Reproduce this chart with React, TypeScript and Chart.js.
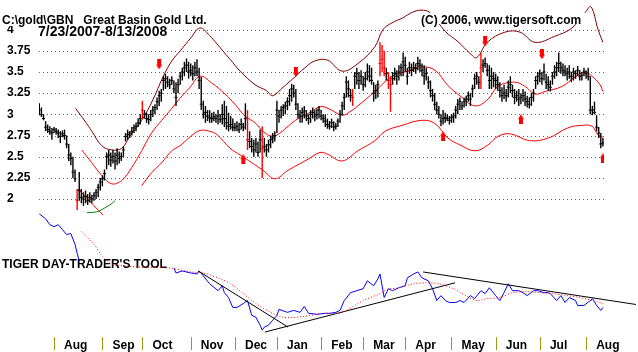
import React, { useEffect, useRef } from 'react';
import { Chart, registerables } from 'chart.js';

Chart.register(...registerables);

// ---- price bars: one entry per trading day, 7/23/2007 (index 0) .. 8/13/2008 (index 268)
const highs = [
  3.13, 3.08, 3.0, 2.92, 2.88, 2.86, 2.84, 2.85, 2.84, 2.82,
  2.8, 2.81, 2.82, 2.75, 2.65, 2.55, 2.5, 2.35, 2.12, 2.32,
  2.12, 2.08, 2.1, 2.06, 2.08, 2.05, 2.08, 2.12, 2.18, 2.25,
  2.28, 2.35, 2.55, 2.58, 2.55, 2.58, 2.55, 2.6, 2.56, 2.55,
  2.62, 2.78, 2.82, 2.8, 2.85, 2.88, 2.9, 2.95, 3.0, 3.16,
  3.05, 3.02, 3.0, 3.05, 3.1, 3.12, 3.2, 3.28, 3.3, 3.45,
  3.48, 3.45, 3.42, 3.45, 3.4, 3.38, 3.42, 3.5, 3.55, 3.62,
  3.66, 3.62, 3.6, 3.58, 3.62, 3.65, 3.55, 3.44, 3.16, 3.1,
  3.05, 3.05, 3.02, 3.03, 3.0, 3.05, 3.0, 3.12, 3.16, 3.1,
  3.02, 2.98, 2.95, 2.9, 2.92, 2.9, 2.95, 2.9, 3.13, 3.05,
  2.8, 2.72, 2.7, 2.72, 2.68, 2.82, 2.86, 2.72, 2.65, 2.7,
  2.75, 2.78, 2.8, 3.16, 3.05, 3.1, 3.12, 3.15, 3.2, 3.3,
  3.36, 3.35, 3.3, 3.13, 3.05, 3.08, 3.1, 3.05, 3.0, 3.05,
  3.08, 3.05, 3.07, 3.1, 3.05, 3.0, 3.0, 2.95, 2.92, 2.95,
  2.92, 2.9, 2.95, 3.05, 3.15, 3.25, 3.45, 3.4, 3.3, 3.3,
  3.5, 3.55, 3.5, 3.52, 3.45, 3.5, 3.6, 3.58, 3.55, 3.38,
  3.35, 3.4, 3.85, 3.82, 3.75, 3.55, 3.5, 3.45, 3.5, 3.55,
  3.52, 3.58, 3.6, 3.73, 3.68, 3.55, 3.62, 3.6, 3.62, 3.6,
  3.68, 3.65, 3.6, 3.58, 3.55, 3.45, 3.4, 3.3, 3.25, 3.15,
  3.1, 3.0, 3.05, 3.02, 3.0, 2.98, 3.0, 3.02, 3.1, 3.18,
  3.2, 3.15, 3.2, 3.22, 3.27, 3.25, 3.35, 3.48, 3.5, 3.45,
  3.73, 3.65, 3.67, 3.6, 3.58, 3.55, 3.5, 3.48, 3.45, 3.38,
  3.32, 3.35, 3.3, 3.4, 3.45, 3.35, 3.3, 3.28, 3.3, 3.25,
  3.3, 3.27, 3.22, 3.2, 3.25, 3.3, 3.45, 3.5, 3.53, 3.5,
  3.6, 3.48, 3.45, 3.4, 3.5, 3.58, 3.62, 3.73, 3.62, 3.6,
  3.58, 3.55, 3.58, 3.5, 3.55, 3.52, 3.57, 3.52, 3.5, 3.55,
  3.52, 3.55, 3.45, 3.1, 3.15, 2.99, 2.85, 2.78, 2.72,
];
const lows = [
  2.99, 2.97, 2.93, 2.8, 2.78, 2.76, 2.7, 2.78, 2.76, 2.72,
  2.66, 2.73, 2.7, 2.6, 2.45, 2.4, 2.25, 2.2, 1.87, 1.98,
  1.95, 1.92, 1.95, 1.93, 1.96, 1.95, 1.98, 2.0, 2.02, 2.1,
  2.15, 2.22, 2.35, 2.4, 2.38, 2.42, 2.35, 2.4, 2.42, 2.45,
  2.5, 2.68, 2.7, 2.72, 2.75, 2.78, 2.8, 2.85, 2.88, 2.95,
  2.95, 2.9, 2.88, 2.92, 2.97, 3.0, 3.05, 3.1, 3.15, 3.28,
  3.3, 3.32, 3.3, 3.35, 3.25, 3.1, 3.25, 3.35, 3.4, 3.45,
  3.5, 3.42, 3.45, 3.4, 3.45, 3.45, 3.3, 3.05, 2.95, 2.9,
  2.92, 2.9, 2.9, 2.92, 2.9, 2.88, 2.9, 2.88, 2.85, 2.82,
  2.8, 2.82, 2.8, 2.8, 2.8, 2.78, 2.82, 2.8, 2.82, 2.58,
  2.6, 2.55, 2.5, 2.55, 2.5, 2.55, 2.25, 2.55, 2.5, 2.55,
  2.6, 2.66, 2.68, 2.78, 2.9, 2.95, 2.98, 3.0, 3.05, 3.1,
  3.15, 3.2, 3.05, 2.95, 2.9, 2.9, 2.95, 2.92, 2.88, 2.9,
  2.95, 2.92, 2.94, 2.95, 2.93, 2.9, 2.85, 2.83, 2.82, 2.84,
  2.8, 2.82, 2.85, 2.9, 2.99, 3.05, 3.2, 3.2, 3.15, 3.1,
  3.3, 3.35, 3.3, 3.35, 3.28, 3.32, 3.4, 3.38, 3.35, 3.15,
  3.18, 3.2, 3.45, 3.5, 3.45, 3.4, 3.3, 3.03, 3.35, 3.4,
  3.35, 3.4, 3.45, 3.45, 3.5, 3.35, 3.48, 3.45, 3.5, 3.48,
  3.52, 3.5, 3.45, 3.35, 3.4, 3.3, 3.2, 3.15, 3.05, 3.0,
  2.95, 2.86, 2.88, 2.9, 2.92, 2.88, 2.9, 2.9, 2.95, 3.0,
  3.05, 3.05, 3.08, 3.1, 3.15, 3.1, 3.2, 3.3, 3.35, 3.3,
  3.3, 3.5, 3.55, 3.45, 3.3, 3.3, 3.32, 3.3, 3.28, 3.2,
  3.15, 3.18, 3.15, 3.2, 3.25, 3.2, 3.12, 3.15, 3.1, 3.12,
  3.15, 3.1, 3.08, 3.07, 3.1, 3.15, 3.3, 3.35, 3.38, 3.35,
  3.4, 3.3, 3.28, 3.27, 3.35, 3.42, 3.45, 3.5, 3.48, 3.45,
  3.45, 3.4, 3.42, 3.38, 3.4, 3.42, 3.45, 3.4, 3.4, 3.45,
  3.42, 3.4, 3.0, 2.99, 3.0, 2.8, 2.72, 2.6, 2.62,
];
const closes = [
  3.05, 3.0, 2.95, 2.85, 2.82, 2.8, 2.78, 2.82, 2.8, 2.78,
  2.74, 2.77, 2.75, 2.65, 2.52, 2.48, 2.32, 2.24, 1.98, 2.1,
  2.02, 2.0, 2.03, 1.98, 2.02, 2.0, 2.04, 2.08, 2.14, 2.2,
  2.24, 2.3, 2.5, 2.52, 2.46, 2.5, 2.45, 2.52, 2.48, 2.5,
  2.58, 2.74, 2.76, 2.78, 2.8, 2.84, 2.86, 2.9, 2.95, 3.05,
  3.0, 2.95, 2.94, 3.0, 3.05, 3.08, 3.15, 3.22, 3.25, 3.4,
  3.42, 3.38, 3.35, 3.4, 3.3, 3.2, 3.35, 3.45, 3.5, 3.55,
  3.58, 3.5, 3.52, 3.48, 3.55, 3.5, 3.4, 3.12, 3.0, 3.02,
  2.98, 2.96, 2.95, 2.97, 2.95, 2.98, 2.94, 3.0, 2.95, 2.9,
  2.86, 2.88, 2.85, 2.84, 2.86, 2.82, 2.88, 2.85, 2.95, 2.7,
  2.68, 2.62, 2.58, 2.65, 2.55, 2.7, 2.6, 2.62, 2.58, 2.64,
  2.7, 2.72, 2.75, 3.05, 2.98, 3.05, 3.08, 3.1, 3.15, 3.22,
  3.3, 3.25, 3.12, 3.0, 2.98, 3.02, 3.04, 2.98, 2.95, 3.0,
  3.02, 2.98, 3.0, 3.05, 2.98, 2.95, 2.92, 2.88, 2.86, 2.9,
  2.85, 2.86, 2.92, 3.0, 3.1, 3.2, 3.38, 3.3, 3.22, 3.2,
  3.45, 3.48, 3.4, 3.45, 3.35, 3.42, 3.5, 3.45, 3.4, 3.25,
  3.28, 3.35, 3.6, 3.65, 3.55, 3.48, 3.4, 3.35, 3.42, 3.48,
  3.45, 3.5, 3.55, 3.62, 3.58, 3.45, 3.55, 3.52, 3.55, 3.54,
  3.6, 3.58, 3.52, 3.45, 3.48, 3.38, 3.28, 3.22, 3.12, 3.05,
  3.0, 2.92, 2.95, 2.96, 2.95, 2.93, 2.96, 2.98, 3.05, 3.12,
  3.15, 3.1, 3.15, 3.18, 3.22, 3.18, 3.3, 3.42, 3.45, 3.38,
  3.55, 3.58, 3.6, 3.52, 3.4, 3.45, 3.42, 3.4, 3.35, 3.28,
  3.22, 3.25, 3.22, 3.32, 3.35, 3.28, 3.2, 3.22, 3.18, 3.2,
  3.22, 3.18, 3.15, 3.12, 3.2, 3.25, 3.4, 3.45, 3.48, 3.42,
  3.5, 3.38, 3.35, 3.32, 3.45, 3.5, 3.55, 3.6, 3.55, 3.52,
  3.5, 3.48, 3.5, 3.45, 3.5, 3.48, 3.52, 3.45, 3.46, 3.5,
  3.48, 3.45, 3.05, 3.05, 3.02, 2.85, 2.78, 2.65, 2.66,
];
const redBarDays = [18, 49, 99, 106, 149, 162, 163, 164, 166, 167, 210];

// ---- bands [trading-day index, price]
const upperBand: [number, number][] = [
  [17.3, 3.07], [21.7, 2.92], [25, 2.8], [29.7, 2.63], [34.4, 2.58], [39.2, 2.6], [43, 2.74],
  [48.7, 2.93], [54, 3.17], [58.8, 3.44], [63, 3.63], [67, 3.75], [72, 3.9], [76.4, 4.02],
  [81, 3.93], [84.5, 3.83], [90.7, 3.65], [95.5, 3.51], [102.6, 3.35], [108, 3.28], [111, 3.22],
  [115.9, 3.32], [120.6, 3.42], [126.3, 3.55], [131, 3.63], [137, 3.64], [144, 3.51], [151.5, 3.6],
  [159.6, 3.8], [163.4, 4.0], [167.7, 4.08], [172.9, 4.14], [177, 4.2], [181.5, 4.23], [185.8, 4.2],
  [193, 3.98], [199, 3.86], [204.8, 3.72], [208, 3.67], [213, 3.85], [221.4, 3.97], [228.6, 3.97],
  [235.7, 3.85], [245, 3.92], [253.3, 4.02], [259.5, 4.2], [262.3, 4.27], [265.7, 4.0], [268, 3.85],
];
const middleBand: [number, number][] = [
  [20.2, 2.58], [24.9, 2.43], [29.7, 2.28], [34.4, 2.18], [39.2, 2.22], [43.9, 2.37], [48.7, 2.57],
  [53.4, 2.78], [58.2, 2.93], [63, 3.07], [66.9, 3.19], [71.7, 3.32], [76.4, 3.45], [82, 3.37],
  [88.3, 3.24], [93, 3.12], [97.8, 2.98], [102.6, 2.9], [106.4, 2.8], [110.7, 2.74], [114.5, 2.78],
  [118.3, 2.86], [123, 2.95], [127.8, 3.01], [133.5, 3.09], [137.3, 3.07], [144, 2.99], [147.7, 3.03],
  [151.5, 3.1], [159.6, 3.27], [167.7, 3.45], [175.3, 3.51], [182, 3.56], [188.2, 3.52], [194.3, 3.34],
  [200, 3.22], [207.2, 3.1], [213.4, 3.18], [218.1, 3.33], [226, 3.38], [231, 3.33], [235.7, 3.24],
  [240.5, 3.27], [248.6, 3.33], [254.7, 3.44], [259.5, 3.5], [262.8, 3.45], [266.6, 3.35], [268, 3.27],
];
const lowerBand: [number, number][] = [
  [48.7, 2.16], [53.4, 2.31], [58.2, 2.43], [63, 2.57], [66.9, 2.63], [72, 2.74], [76.4, 2.81],
  [81, 2.8], [84.5, 2.76], [90.7, 2.6], [95.5, 2.52], [101, 2.43], [106.4, 2.34], [112, 2.24],
  [118.3, 2.34], [127.8, 2.47], [133.5, 2.55], [137, 2.53], [144, 2.45], [151.5, 2.57], [159.6, 2.69],
  [164.4, 2.8], [172.5, 2.87], [182, 2.93], [188.2, 2.89], [194.3, 2.72], [200, 2.64], [207.2, 2.57],
  [213.4, 2.64], [218.1, 2.74], [224, 2.77], [233, 2.69], [242, 2.72], [251.3, 2.84], [258, 2.87],
  [262.8, 2.86], [265.6, 2.76], [268, 2.73],
];
const shortDownLine: [number, number][] = [[18.4, 2.12], [30.3, 1.81]];
const greenLine: [number, number][] = [[22.7, 1.84], [27.4, 1.85], [32.2, 1.91], [34.6, 1.95], [36, 1.98]];

// ---- signal arrows [trading-day index, price]
const sellArrows: [number, number][] = [[57, 3.59], [122, 3.5], [212, 3.86], [239, 3.71]];
const buyArrows: [number, number][] = [[97, 2.47], [192, 2.74], [229, 2.94], [268, 2.48]];

// ---- Tiger Day-Trader's Tool (indicator units)
const toolLine: [number, number | null][] = [
  [0, 58], [3, 53], [5, 47], [7, 45], [9, 47], [11, 42], [13, 37], [15, 38], [17, 27], [18, 18], [19, 10], [20, null],
  [64, 3], [65, -2], [68, 0], [72, -2], [75, -3], [76, 0], [78, -5], [81, -13], [85, -20], [87, -15], [88, -22],
  [90, -27], [92, -37], [94, -37], [97, -33], [99, -30], [101, -45], [103, -47], [105, -55], [106, -60], [107, -57],
  [109, -55], [111, -50], [113, -45], [114, -39], [118, -42], [121, -40], [124, -42], [126, -36], [128, -43],
  [132, -44], [136, -43], [138, -43], [141, -42], [143, -40], [145, -30], [148, -22], [151, -20], [154, -18],
  [156, -10], [159, -15], [161, -8], [162, -3], [164, -27], [166, -18], [168, -20], [171, -17], [174, -15],
  [175, -7], [178, -3], [180, -1], [182, -7], [185, -10], [187, -18], [189, -30], [191, -25], [193, -30],
  [195, -32], [198, -32], [200, -30], [202, -32], [205, -25], [207, -28], [210, -20], [212, -23], [214, -17],
  [217, -25], [219, -30], [221, -22], [223, -13], [225, -20], [228, -20], [230, -22], [232, -25], [235, -20],
  [237, -20], [240, -22], [242, -22], [243, -23], [246, -30], [248, -25], [250, -32], [252, -27], [255, -30],
  [256, -35], [259, -35], [262, -30], [263, -28], [265, -35], [267, -40], [268, -37],
];
const toolAverage: [number, number][] = [
  [20, 40], [26, 27], [30, 15], [35, 7], [48, 4], [62, 3], [72, -1], [78, -2], [85, -7], [91, -13], [97, -23],
  [103, -33], [110, -42], [116, -47], [122, -47], [129, -45], [135, -43], [144, -42], [154, -30], [162, -23],
  [165, -19], [171, -17], [178, -13], [184, -12], [190, -13], [197, -18], [201, -23], [208, -30], [213, -28],
  [219, -27], [225, -22], [232, -21], [238, -22], [244, -23], [251, -25], [257, -27], [263, -30], [268, -33],
];
const trendDown1: [number, number][] = [[75.6, 0], [118.3, -57]];
const trendUp: [number, number][] = [[107.3, -62], [197.7, -12]];
const trendDown2: [number, number][] = [[182.5, -1], [283.7, -34]];

// ---- axes
const priceTicks = [2, 2.25, 2.5, 2.75, 3, 3.25, 3.5, 3.75, 4];
const monthStarts = [7, 30, 49, 72, 93, 113, 134, 154, 174, 196, 217, 238, 260];
const monthNames = ['Aug', 'Sep', 'Oct', 'Nov', 'Dec', 'Jan', 'Feb', 'Mar', 'Apr', 'May', 'Jun', 'Jul', 'Aug'];

const FONT = '"Liberation Sans", Arial, sans-serif';

const pts = (arr: [number, number | null][]) => arr.map(([x, y]) => ({ x, y }));

function makeArrow(up: boolean): HTMLCanvasElement {
  const c = document.createElement('canvas');
  c.width = 6;
  c.height = 10;
  const g = c.getContext('2d')!;
  g.fillStyle = '#ff0000';
  g.beginPath();
  if (up) {
    g.moveTo(3, 0); g.lineTo(6, 4.5); g.lineTo(0, 4.5); g.closePath(); g.fill();
    g.fillRect(1, 4, 4, 6);
  } else {
    g.fillRect(1, 0, 4, 6);
    g.moveTo(0, 5.5); g.lineTo(6, 5.5); g.lineTo(3, 10); g.closePath(); g.fill();
  }
  return c;
}

const backgroundPlugin = {
  id: 'tigerBackground',
  beforeDatasetsDraw(chart: any) {
    const { ctx, chartArea, scales } = chart;
    ctx.save();
    ctx.fillStyle = '#2a8a2a';
    for (const t of priceTicks) {
      const py = Math.round(scales.y.getPixelForValue(t));
      for (let px = Math.ceil(chartArea.left); px < chartArea.right; px += 4) ctx.fillRect(px, py, 1, 1);
    }
    ctx.font = `bold 12px ${FONT}`;
    ctx.textBaseline = 'alphabetic';
    ctx.fillStyle = '#ffffff';
    ctx.fillRect(0, 13, 205, 13);
    ctx.fillStyle = '#000000';
    ctx.fillText('C:\\gold\\GBN   Great Basin Gold Ltd.', 2, 24);
    ctx.font = `bold 14px ${FONT}`;
    ctx.fillStyle = '#ffffff';
    ctx.fillRect(36, 26, 132, 11);
    ctx.fillStyle = '#000000';
    ctx.fillText('7/23/2007-8/13/2008', 38, 36);
    ctx.font = `bold 12px ${FONT}`;
    ctx.fillStyle = '#ffffff';
    ctx.fillRect(0, 257, 173, 13);
    ctx.fillStyle = '#000000';
    ctx.fillText("TIGER DAY-TRADER'S TOOL", 2, 268);
    ctx.restore();
  },
  afterDatasetsDraw(chart: any) {
    const { ctx } = chart;
    ctx.save();
    ctx.font = `bold 12px ${FONT}`;
    ctx.fillStyle = '#ffffff';
    ctx.fillRect(419, 13, 166, 11);
    ctx.fillStyle = '#000000';
    ctx.textBaseline = 'alphabetic';
    ctx.fillText('(C) 2006, www.tigersoft.com', 421, 24);
    ctx.restore();
  },
  afterDraw(chart: any) {
    const { ctx, scales } = chart;
    ctx.save();
    ctx.fillStyle = '#9a9a10';
    for (const d of monthStarts) {
      const px = Math.round(scales.x.getPixelForValue(d));
      ctx.fillRect(px, 337, 1, 13);
    }
    ctx.restore();
  },
};

export default function App() {
  const ref = useRef<HTMLCanvasElement>(null);
  useEffect(() => {
    const canvas = ref.current!;
    const sellImg = makeArrow(false);
    const buyImg = makeArrow(true);
    const lineBase = { type: 'line' as const, pointRadius: 0, borderWidth: 1, fill: false };
    const chart = new Chart(canvas, {
      type: 'line',
      data: {
        datasets: [
          {
            type: 'line', data: pts(sellArrows), showLine: false, pointStyle: sellImg, pointRadius: 4,
            yAxisID: 'y', xAxisID: 'x', order: 0,
          } as any,
          {
            type: 'line', data: pts(buyArrows), showLine: false, pointStyle: buyImg, pointRadius: 4,
            yAxisID: 'y', xAxisID: 'x', order: 0,
          } as any,
          {
            type: 'line', data: closes.map((c, i) => ({ x: i, y: c })), showLine: false,
            pointStyle: 'line', pointRadius: 1.5, pointBorderWidth: 1,
            pointBorderColor: closes.map((_, i) => (redBarDays.includes(i) ? '#ff0000' : '#000000')),
            yAxisID: 'y', xAxisID: 'x', order: 1,
          } as any,
          {
            type: 'bar', data: highs.map((h, i) => ({ x: i, y: [lows[i], h] })),
            backgroundColor: highs.map((_, i) => (redBarDays.includes(i) ? '#ff0000' : '#000000')),
            barThickness: 1.4, borderWidth: 0, inflateAmount: 0, yAxisID: 'y', xAxisID: 'x', order: 2,
          } as any,
          { ...lineBase, data: pts(upperBand), borderColor: '#800000', tension: 0.4, yAxisID: 'y', order: 3 } as any,
          { ...lineBase, data: pts(middleBand), borderColor: '#ff0000', tension: 0.4, yAxisID: 'y', order: 3 } as any,
          { ...lineBase, data: pts(lowerBand), borderColor: '#ff0000', tension: 0.4, yAxisID: 'y', order: 3 } as any,
          { ...lineBase, data: pts(shortDownLine), borderColor: '#ff0000', yAxisID: 'y', order: 3 } as any,
          { ...lineBase, data: pts(greenLine), borderColor: '#008000', tension: 0.3, yAxisID: 'y', order: 3 } as any,
          { ...lineBase, data: pts(toolAverage), borderColor: '#ff0000', borderDash: [1, 2], tension: 0.3, yAxisID: 'y2', order: 4 } as any,
          { ...lineBase, data: pts(toolLine), borderColor: '#0000ff', spanGaps: false, yAxisID: 'y2', order: 5 } as any,
          { ...lineBase, data: pts(trendDown1), borderColor: '#000000', yAxisID: 'y2', order: 4 } as any,
          { ...lineBase, data: pts(trendUp), borderColor: '#000000', yAxisID: 'y2', order: 4 } as any,
          { ...lineBase, data: pts(trendDown2), borderColor: '#000000', yAxisID: 'y2', order: 4, clip: false } as any,
        ],
      },
      options: {
        animation: false,
        responsive: false,
        devicePixelRatio: 1,
        events: [],
        layout: { padding: { left: 7, right: 34, top: 0, bottom: 0 } },
        plugins: { legend: { display: false }, tooltip: { enabled: false }, title: { display: false } },
        scales: {
          x: {
            type: 'linear', min: -0.14, max: 268.52, offset: false, position: 'bottom',
            grid: { display: false, drawTicks: false }, border: { display: false },
            afterBuildTicks: (s: any) => { s.ticks = monthStarts.map((d) => ({ value: d + 4.8 })); },
            afterFit: (s: any) => { s.height = 16; s.paddingLeft = 0; s.paddingRight = 0; },
            ticks: {
              autoSkip: false, maxRotation: 0, minRotation: 0, align: 'start', padding: 2,
              color: '#000000', font: { family: FONT, size: 12, weight: 'bold' },
              callback: (_v: any, i: number) => monthNames[i],
            },
          },
          y: {
            type: 'linear', position: 'left', min: 0.3837, max: 4.2907,
            grid: { display: false, drawTicks: false }, border: { display: false },
            afterBuildTicks: (s: any) => { s.ticks = priceTicks.map((v) => ({ value: v })); },
            afterFit: (s: any) => { s.width = 32; s.paddingTop = 0; s.paddingBottom = 0; },
            ticks: {
              autoSkip: false, crossAlign: 'far', padding: 0, color: '#000000',
              font: { family: FONT, size: 12, weight: 'bold' },
              callback: (v: any) => String(v),
            },
          },
          y2: { type: 'linear', display: false, min: -66, max: 270 },
        },
      } as any,
      plugins: [backgroundPlugin],
    });
    return () => chart.destroy();
  }, []);
  return (
    <div style={{ position: 'absolute', left: 0, top: 0, width: 638, height: 352, background: '#ffffff' }}>
      <canvas ref={ref} width={638} height={352} style={{ display: 'block', width: 638, height: 352 }} />
    </div>
  );
}
